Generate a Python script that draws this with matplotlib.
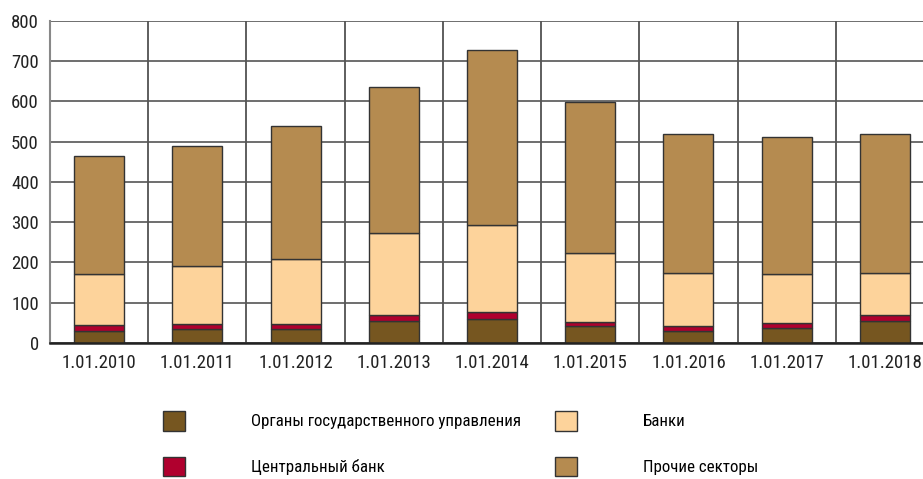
import matplotlib
matplotlib.use('Agg')
import matplotlib.pyplot as plt
from matplotlib import font_manager
import numpy as np

dates = ['1.01.2010', '1.01.2011', '1.01.2012', '1.01.2013', '1.01.2014',
         '1.01.2015', '1.01.2016', '1.01.2017', '1.01.2018']
gov = [30, 33, 33, 53, 60, 41, 30, 37, 55]
central_bank = [15, 13, 14, 17, 16, 11, 12, 13, 15]
banks = [127, 145, 162, 202, 216, 170, 132, 120, 103]
other = [293, 298, 330, 365, 436, 376, 346, 341, 345]
series_names = ['Органы государственного управления', 'Центральный банк',
                'Банки', 'Прочие секторы']
y_ticks = [0, 100, 200, 300, 400, 500, 600, 700, 800]

colors = ['#765620', '#B0002E', '#FDD39B', '#B58B50']

# want a condensed face, like the original
installed = {f.name for f in font_manager.fontManager.ttflist}
fam = 'DejaVu Sans'
for cand in ['Liberation Sans Narrow', 'Roboto Condensed', 'Open Sans Condensed', 'DejaVu Sans Condensed']:
    if cand in installed:
        fam = cand
        break
plt.rcParams['font.family'] = [fam, 'DejaVu Sans']

fig = plt.figure(figsize=(9.23, 4.79), dpi=100)
ax = fig.add_axes([50 / 923, 136.3 / 479, 884 / 923, 321.6 / 479])

x = np.arange(len(dates))
bottom = np.zeros(len(dates))
for vals, c, name in zip([gov, central_bank, banks, other], colors, series_names):
    ax.bar(x, vals, width=0.51, bottom=bottom, color=c, edgecolor='#333333',
           linewidth=1, label=name, zorder=3)
    bottom += np.array(vals)

ax.set_xlim(-0.5, len(dates) - 0.5)
ax.set_ylim(0, 800)
ax.set_yticks(y_ticks)
ax.set_xticks(x)
ax.set_xticklabels(dates)
ax.set_xticks(np.arange(len(dates) + 1) - 0.5, minor=True)

ax.grid(axis='y', color='#555555', linewidth=1.2, zorder=0)
ax.grid(axis='x', which='minor', color='#333333', linewidth=1.1, zorder=0)
ax.grid(axis='x', which='major', visible=False)
ax.tick_params(axis='both', which='both', length=0, labelsize=13.5, colors='#222222')
ax.tick_params(axis='y', pad=8)
ax.tick_params(axis='x', pad=8)
ax.spines[['top', 'right']].set_visible(False)
ax.spines['left'].set_color('#888888')
ax.spines['left'].set_linewidth(1.5)
ax.spines['bottom'].set_color('#222222')
ax.spines['bottom'].set_linewidth(1.8)
ax.spines['bottom'].set_zorder(4)

handles, labels = ax.get_legend_handles_labels()
fig.legend(handles, labels, ncol=2, loc='upper left',
           bbox_to_anchor=(163 / 923, 1 - 411 / 479), frameon=False,
           fontsize=12.2, handlelength=1.3, handleheight=1.4,
           handletextpad=3.9, columnspacing=2.0, labelspacing=1.55,
           borderpad=0, borderaxespad=0)

fig.savefig('out.png', dpi=100)
